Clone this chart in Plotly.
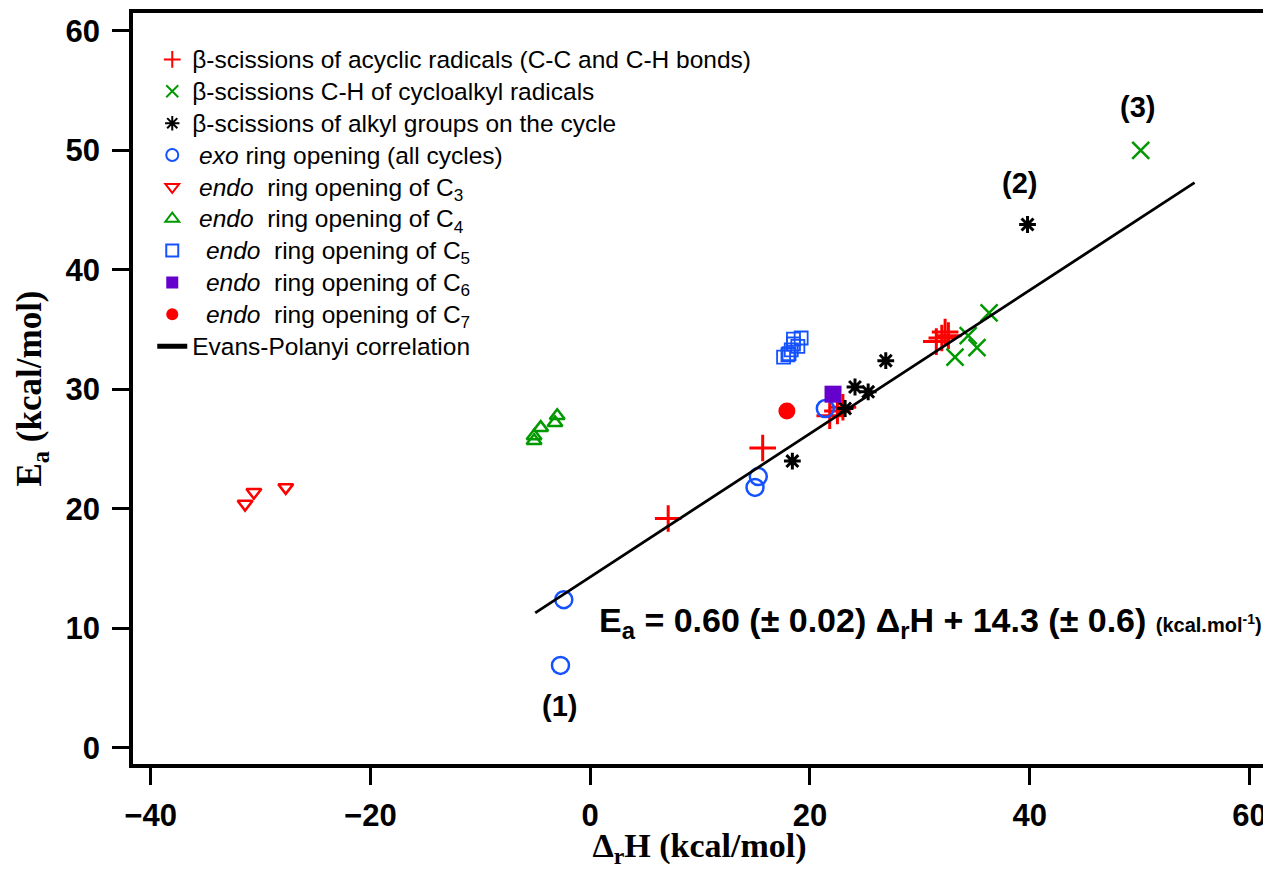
import plotly.graph_objects as go

# ---------------- data ----------------
acyc_x = [7.1, 15.7, 21.8, 22.5, 23.0, 31.5, 32.0, 32.3, 32.6]
acyc_y = [19.2, 25.1, 27.8, 28.2, 28.5, 34.0, 34.3, 34.8, 34.5]

cyc_ch_x = [33.2, 34.4, 35.2, 36.3, 50.1]
cyc_ch_y = [32.7, 34.5, 33.5, 36.4, 50.0]

alkyl_x = [18.4, 23.2, 24.1, 25.3, 26.9, 39.8]
alkyl_y = [24.0, 28.4, 30.2, 29.8, 32.4, 43.8]

exo_x = [-2.7, -2.4, 15.0, 15.3, 21.4]
exo_y = [6.9, 12.4, 21.8, 22.7, 28.4]

c3_x = [-31.4, -30.6, -27.7]
c3_y = [20.4, 21.4, 21.8]

c4_x = [-5.1, -5.1, -4.5, -3.2, -3.0]
c4_y = [25.7, 26.1, 26.8, 27.2, 27.8]

c5_x = [17.6, 18.0, 18.1, 18.3, 18.5, 18.9, 18.5, 19.2]
c5_y = [32.7, 32.9, 33.0, 33.3, 33.8, 33.6, 34.2, 34.3]

c6_x = [22.1]
c6_y = [29.6]

c7_x = [17.9]
c7_y = [28.2]

fit_slope = 0.60
fit_intercept = 14.3
fit_x = [-5.0, 55.0]
fit_y = [fit_slope * v + fit_intercept for v in fit_x]

labels_txt = ["(1)", "(2)", "(3)"]
labels_x = [-2.8, 39.1, 49.8]
labels_y = [3.5, 47.3, 53.6]

x_ticks = [-40, -20, 0, 20, 40, 60]
y_ticks = [0, 10, 20, 30, 40, 50, 60]

RED = "#FF0000"
GREEN = "#009900"
BLUE = "#1452FF"
PURPLE = "#6600CC"
SP = "\u00a0"


def lg(s):
    # legend label, drawn a bit larger than the row spacing font
    return "<span style='font-size:24.5px'>" + s + "</span>"


fig = go.Figure()


def add(x, y, name, symbol, color, size, lw):
    fig.add_trace(go.Scatter(
        x=x, y=y, mode="markers", name=lg(name),
        marker=dict(symbol=symbol, size=size, color=color,
                    line=dict(color=color, width=lw)),
    ))


add(acyc_x, acyc_y, "β-scissions of acyclic radicals (C-C and C-H bonds)",
    "cross-thin", RED, 19, 3)
add(cyc_ch_x, cyc_ch_y, "β-scissions C-H of cycloalkyl radicals",
    "x-thin", GREEN, 17, 2.5)
add(alkyl_x, alkyl_y, "β-scissions of alkyl groups on the cycle",
    "asterisk", "black", 14, 3)
add(exo_x, exo_y, SP + "<i>exo</i> ring opening (all cycles)",
    "circle-open", BLUE, 17, 2.5)
add(c3_x, c3_y, SP + "<i>endo</i>" + SP + " ring opening of C<sub>3</sub>",
    "triangle-down-open", RED, 13, 2.5)
add(c4_x, c4_y, SP + "<i>endo</i>" + SP + " ring opening of C<sub>4</sub>",
    "triangle-up-open", GREEN, 13, 2.5)
add(c5_x, c5_y, SP + SP + "<i>endo</i>" + SP + " ring opening of C<sub>5</sub>",
    "square-open", BLUE, 13, 1.8)
add(c6_x, c6_y, SP + SP + "<i>endo</i>" + SP + " ring opening of C<sub>6</sub>",
    "square", PURPLE, 17, 0)
add(c7_x, c7_y, SP + SP + "<i>endo</i>" + SP + " ring opening of C<sub>7</sub>",
    "circle", RED, 17, 0)

fig.add_trace(go.Scatter(
    x=fit_x, y=fit_y, mode="lines", name=lg("Evans-Polanyi correlation"),
    line=dict(color="black", width=2.8),
))

for t, xx, yy in zip(labels_txt, labels_x, labels_y):
    fig.add_annotation(x=xx, y=yy, text="<b>" + t + "</b>", showarrow=False,
                       font=dict(size=29, color="black",
                                 family="Liberation Sans, Arial"))

fig.add_annotation(
    x=0.6, y=10.5, xanchor="left", yanchor="middle", showarrow=False,
    text="<b>E<sub>a</sub> = 0.60 (± 0.02) Δ<sub>r</sub>H + 14.3 (± 0.6)</b> "
         "<b><span style='font-size:20px'>(kcal.mol<sup>-1</sup>)</span></b>",
    font=dict(size=34, color="black", family="Liberation Sans, Arial"),
)

axis_common = dict(
    showline=True, linecolor="black", linewidth=3.5, mirror=True,
    ticks="outside", ticklen=17, tickwidth=3, tickcolor="black",
    showgrid=False, zeroline=False,
    tickfont=dict(size=31, color="black", family="Liberation Sans, Arial",
                  weight="bold"),
)

# the page body adds an 8px offset; sizes/margins compensate for it
fig.update_layout(
    width=1263, height=861,
    margin=dict(l=125, r=5, t=5, b=105, autoexpand=False),
    paper_bgcolor="white", plot_bgcolor="white",
    xaxis=dict(range=[-41.6, 61.5], tickvals=x_ticks,
               ticklabelstandoff=4, automargin=False,
               title=dict(text="<b>Δ<sub>r</sub>H (kcal/mol)</b>", standoff=12,
                          font=dict(size=34, color="black",
                                    family="Liberation Serif, Times New Roman")),
               **axis_common),
    yaxis=dict(range=[-1.35, 61.5], tickvals=y_ticks,
               ticklabelstandoff=6, automargin=False,
               title=dict(text="<b>E<sub>a</sub> (kcal/mol)</b>", standoff=14,
                          font=dict(size=35, color="black",
                                    family="Liberation Serif, Times New Roman")),
               **axis_common),
    legend=dict(x=0.017, y=0.966, xanchor="left", yanchor="top",
                bgcolor="rgba(0,0,0,0)", itemsizing="constant",
                font=dict(size=22.2, color="black",
                          family="Liberation Sans, Arial")),
    showlegend=True,
)

fig.write_html("out.html")
